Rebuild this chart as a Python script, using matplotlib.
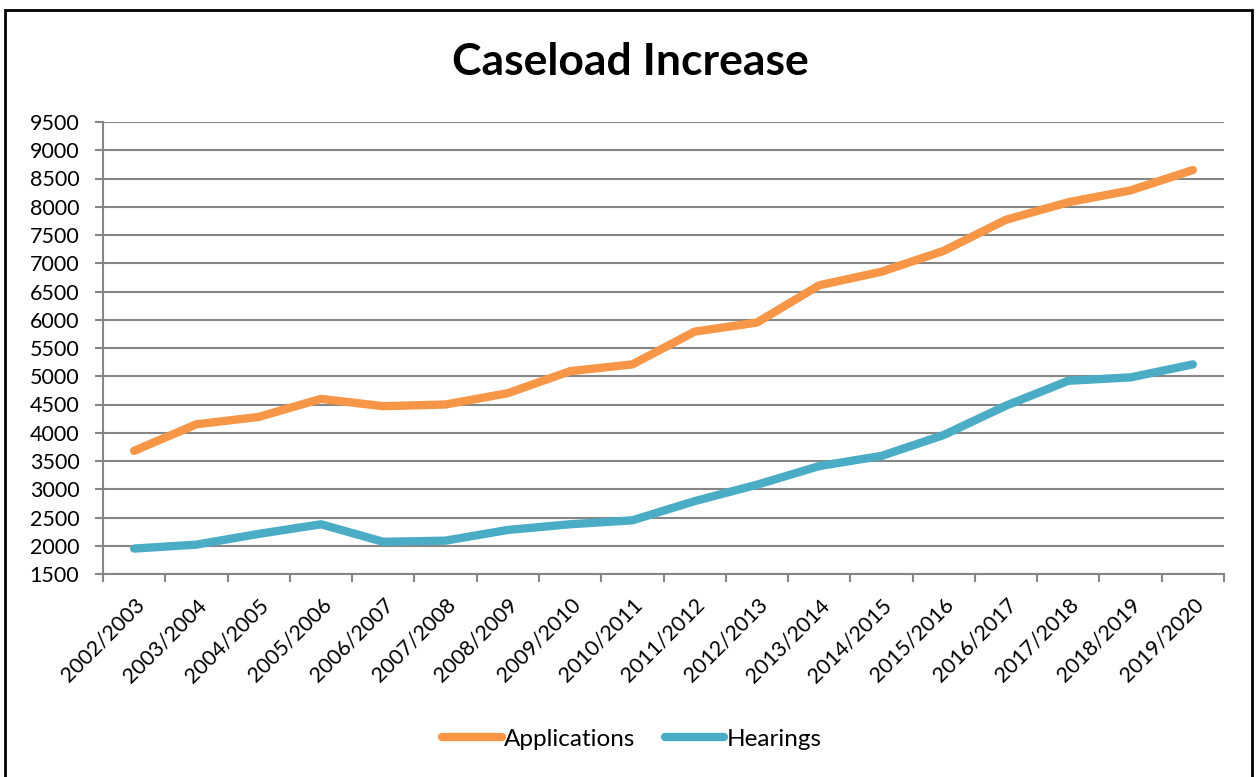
import matplotlib
matplotlib.use("Agg")
import matplotlib.pyplot as plt
from matplotlib.patches import Rectangle
import numpy as np

categories = ["2002/2003", "2003/2004", "2004/2005", "2005/2006", "2006/2007",
              "2007/2008", "2008/2009", "2009/2010", "2010/2011", "2011/2012",
              "2012/2013", "2013/2014", "2014/2015", "2015/2016", "2016/2017",
              "2017/2018", "2018/2019", "2019/2020"]
applications = [3680, 4150, 4280, 4600, 4470, 4500, 4700, 5090, 5210, 5790,
                5950, 6610, 6850, 7220, 7770, 8080, 8290, 8650]
hearings = [1950, 2020, 2210, 2380, 2070, 2090, 2280, 2380, 2450, 2790,
            3080, 3410, 3590, 3960, 4480, 4920, 4980, 5210]
yticks = list(range(1500, 9501, 500))

plt.rcParams['font.family'] = ['Lato', 'DejaVu Sans']

W, H = 1257, 777
fig = plt.figure(figsize=(W / 100, H / 100), dpi=100)
fig.patch.set_facecolor("white")

# outer border
fig.patches.append(Rectangle((5 / W, -0.01), (1252 - 5) / W, 1 - 10 / H + 0.01,
                             transform=fig.transFigure, fill=False,
                             edgecolor="black", linewidth=2))

left, right, top, bottom = 103, 1224, 122, 574
ax = fig.add_axes([left / W, 1 - bottom / H, (right - left) / W, (bottom - top) / H])

x = np.arange(len(categories))
ax.plot(x, applications, color="#F79646", linewidth=6, solid_capstyle="round",
        solid_joinstyle="round", label="Applications")
ax.plot(x, hearings, color="#4BACC6", linewidth=6, solid_capstyle="round",
        solid_joinstyle="round", label="Hearings")

ax.set_xlim(-0.5, len(categories) - 0.5)
ax.set_ylim(1500, 9500)
ax.set_yticks(yticks)
ax.set_yticklabels([str(v) for v in yticks], fontsize=15.5)
ax.yaxis.grid(True, color="#868686", linewidth=1.5)
ax.set_axisbelow(True)

ax.set_xticks(x)
ax.set_xticklabels(categories, rotation=45, ha="right", rotation_mode="anchor",
                   fontsize=15.5)
ax.tick_params(axis="x", length=0, pad=15)
ax.set_xticks(np.arange(-0.5, len(categories), 1.0), minor=True)
ax.tick_params(axis="x", which="minor", length=6, width=1.5, color="#868686")
ax.tick_params(axis="y", length=6, width=1.5, color="#868686", pad=11)

for s in ["top", "right"]:
    ax.spines[s].set_visible(False)
for s in ["left", "bottom"]:
    ax.spines[s].set_color("#868686")
    ax.spines[s].set_linewidth(1.5)

fig.text(630 / W, 1 - 62 / H, "Caseload Increase", ha="center", va="center",
         fontsize=32, fontweight="bold")

leg = fig.legend(loc="center", bbox_to_anchor=(632 / W, 1 - 739 / H), ncol=2,
                 frameon=False, fontsize=17.5, handlelength=2.45, handletextpad=0.1,
                 columnspacing=1.2)

fig.savefig("out.png", dpi=100, facecolor="white")
